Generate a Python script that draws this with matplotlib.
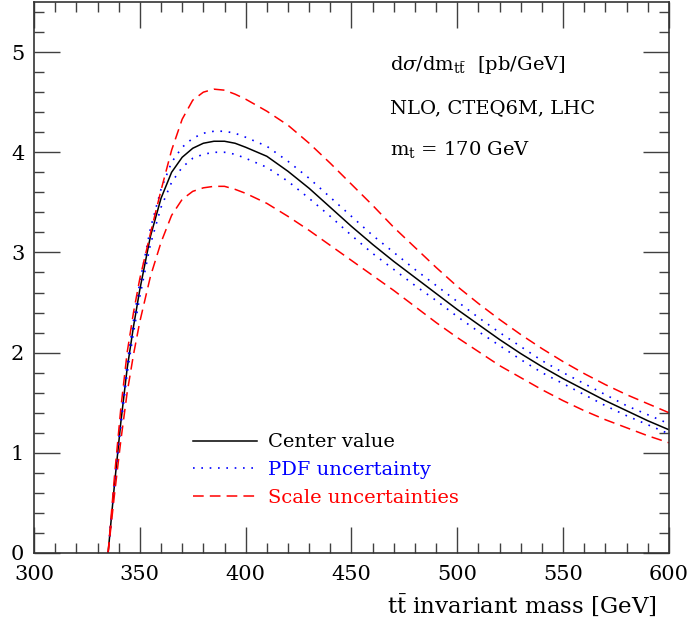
import matplotlib
matplotlib.use('Agg')
import matplotlib.pyplot as plt
from matplotlib.ticker import MultipleLocator

# invariant mass grid in GeV
mass = [335, 338, 341, 344, 347, 350, 355, 360, 365, 370, 375, 380, 385, 390, 395, 400,
        410, 420, 430, 440, 450, 460, 470, 480, 490, 500,
        510, 520, 530, 540, 550, 560, 570, 580, 590, 600]

# d sigma / d m_tt in pb/GeV
center = [0, 0.68, 1.30, 1.84, 2.26, 2.63, 3.16, 3.54, 3.80, 3.95, 4.04, 4.09, 4.11, 4.11, 4.09, 4.05,
          3.96, 3.81, 3.64, 3.45, 3.26, 3.08, 2.91, 2.75, 2.59, 2.43,
          2.28, 2.13, 1.99, 1.86, 1.74, 1.63, 1.52, 1.42, 1.32, 1.23]
pdf_up = [0, 0.70, 1.34, 1.89, 2.32, 2.70, 3.24, 3.63, 3.90, 4.05, 4.14, 4.19, 4.21, 4.21, 4.19, 4.15,
          4.06, 3.91, 3.74, 3.55, 3.36, 3.17, 3.00, 2.83, 2.67, 2.51,
          2.35, 2.20, 2.06, 1.92, 1.80, 1.69, 1.58, 1.47, 1.38, 1.29]
pdf_down = [0, 0.66, 1.26, 1.79, 2.20, 2.56, 3.08, 3.45, 3.70, 3.85, 3.94, 3.98, 4.00, 4.00, 3.98, 3.94,
            3.85, 3.71, 3.54, 3.36, 3.17, 2.99, 2.83, 2.67, 2.52, 2.36,
            2.21, 2.07, 1.93, 1.80, 1.69, 1.58, 1.47, 1.37, 1.28, 1.19]
scale_up = [0, 0.76, 1.44, 2.00, 2.40, 2.74, 3.19, 3.62, 4.02, 4.33, 4.52, 4.60, 4.63, 4.62, 4.58, 4.53,
            4.41, 4.27, 4.09, 3.89, 3.68, 3.47, 3.25, 3.05, 2.85, 2.66,
            2.49, 2.33, 2.18, 2.04, 1.91, 1.79, 1.68, 1.58, 1.49, 1.40]
scale_down = [0, 0.58, 1.12, 1.60, 1.98, 2.31, 2.76, 3.10, 3.37, 3.53, 3.61, 3.645, 3.66, 3.66, 3.63, 3.59,
              3.49, 3.36, 3.22, 3.07, 2.92, 2.77, 2.62, 2.46, 2.30, 2.15,
              2.01, 1.87, 1.75, 1.63, 1.52, 1.42, 1.33, 1.25, 1.17, 1.10]

plt.rcParams['font.family'] = ['DejaVu Serif']
plt.rcParams['mathtext.fontset'] = 'dejavuserif'

fig = plt.figure(figsize=(6.91, 6.24), dpi=100)
ax = fig.add_axes([34 / 691, 71 / 624, 635 / 691, 551 / 624])

dots = (0, (1, 4))
dashes = (0, (7, 4))
ax.plot(mass, center, color='black', lw=1.1, label='Center value')
ax.plot(mass, pdf_up, color='#0000ff', lw=1.2, linestyle=dots, label='PDF uncertainty')
ax.plot(mass, pdf_down, color='#0000ff', lw=1.2, linestyle=dots)
ax.plot(mass, scale_up, color='#ff0000', lw=1.1, linestyle=dashes, label='Scale uncertainties')
ax.plot(mass, scale_down, color='#ff0000', lw=1.1, linestyle=dashes)

ax.set_xlim(300, 600)
ax.set_ylim(0, 5.5)
ax.xaxis.set_major_locator(MultipleLocator(50))
ax.xaxis.set_minor_locator(MultipleLocator(10))
ax.yaxis.set_major_locator(MultipleLocator(1))
ax.yaxis.set_minor_locator(MultipleLocator(0.2))
ax.tick_params(which='both', direction='in', top=True, right=True, width=1, color='0.25')
ax.tick_params(which='major', length=18.5, labelsize=15)
ax.tick_params(axis='x', which='major', pad=9)
ax.tick_params(axis='y', which='major', pad=7)
ax.tick_params(which='minor', length=7)
for sp in ax.spines.values():
    sp.set_linewidth(1.2)
    sp.set_color('0.2')

ax.set_xlabel(r'$\mathrm{t\bar{t}}$ invariant mass [GeV]', fontsize=16.5, ha='right')
ax.xaxis.set_label_coords(0.98, -0.072)

ax.text(0.56, 0.877, r'$\mathrm{d}\sigma/\mathrm{dm}_{\mathrm{t\bar{t}}}$  [pb/GeV]',
        transform=ax.transAxes, fontsize=14, va='baseline')
ax.text(0.56, 0.799, 'NLO, CTEQ6M, LHC', transform=ax.transAxes, fontsize=14, va='baseline')
ax.text(0.56, 0.722, r'm$_{\mathrm{t}}$ = 170 GeV', transform=ax.transAxes, fontsize=14, va='baseline')

leg = ax.legend(loc='upper left', bbox_to_anchor=(0.25, 0.217), frameon=False, fontsize=14,
                borderpad=0, borderaxespad=0, handlelength=3.3, handletextpad=0.55,
                labelspacing=0.5, labelcolor=['black', '#0000ff', '#ff0000'])

fig.savefig('out.png', dpi=100)
